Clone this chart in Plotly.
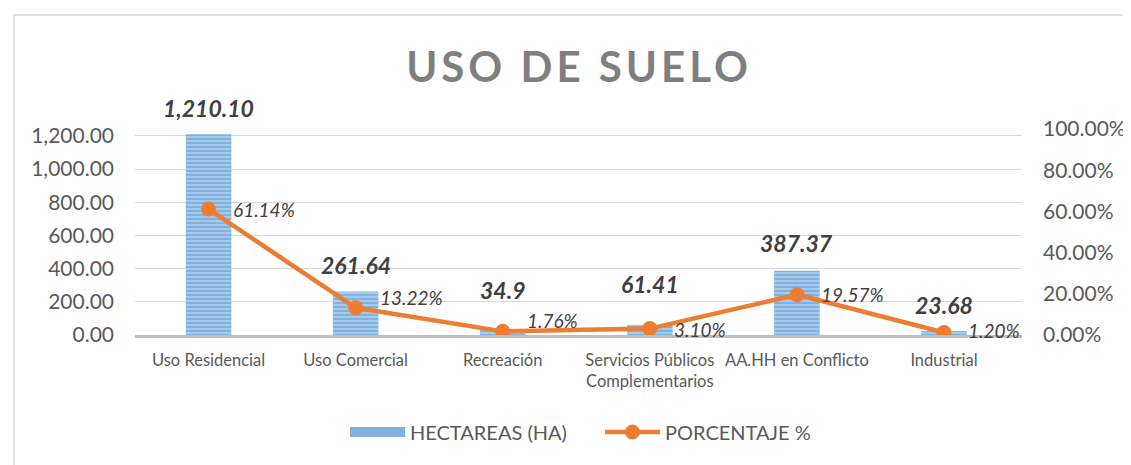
import plotly.graph_objects as go

categories = ["Uso Residencial", "Uso Comercial", "Recreación",
              "Servicios Públicos<br>Complementarios", "AA.HH en Conflicto", "Industrial"]
hectareas = [1210.10, 261.64, 34.9, 61.41, 387.37, 23.68]
hect_labels = ["1,210.10", "261.64", "34.9", "61.41", "387.37", "23.68"]
porcentaje = [0.6114, 0.1322, 0.0176, 0.0310, 0.1957, 0.0120]
pct_labels = ["61.14%", "13.22%", "1.76%", "3.10%", "19.57%", "1.20%"]
left_ticks = [0, 200, 400, 600, 800, 1000, 1200]
right_ticks = [0, 0.2, 0.4, 0.6, 0.8, 1.0]

# label offsets (px) to mimic manual placement
bar_label_shift = [26, 27, 39, 41, 28, 26]
pct_label_shift = [0, 10, 11, -1, 0, 2]

FONT = "Lato"
OFF = 8  # page body margin
W, H = 1131 - OFF, 465 - OFF
L, R, T, B = 135 - OFF, 1131 - 1022, 129 - OFF, 465 - 335
PW, PH = W - L - R, H - T - B

fig = go.Figure()
fig.add_trace(go.Bar(
    x=categories, y=hectareas, name="HECTAREAS (HA)", width=0.31, showlegend=False,
    marker=dict(color="#5B9BD5", line=dict(width=0),
                pattern=dict(shape="-", bgcolor="#A9CBEA", fgcolor="#5B9BD5",
                             size=4, solidity=0.55)),
    yaxis="y"))
# legend stand-in for the patterned bar swatch
fig.add_trace(go.Scatter(
    x=[None], y=[None], name="HECTAREAS (HA)", mode="lines",
    line=dict(color="#7FB0DF", width=14), yaxis="y"))
fig.add_trace(go.Scatter(
    x=categories, y=porcentaje, name="PORCENTAJE %", mode="lines+markers",
    line=dict(color="#ED7D31", width=4.5),
    marker=dict(color="#ED7D31", size=15),
    yaxis="y2"))

for c, v, t, s in zip(categories, hectareas, hect_labels, bar_label_shift):
    fig.add_annotation(x=c, y=v, yref="y", text=f"<b><i>{t}</i></b>", showarrow=False,
                       yshift=s, font=dict(family=FONT, size=23, color="#404040"))
for c, v, t, s in zip(categories, porcentaje, pct_labels, pct_label_shift):
    fig.add_annotation(x=c, y=v, yref="y2", text=f"<i>{t}</i>", showarrow=False,
                       xanchor="left", xshift=22, yshift=s,
                       font=dict(family=FONT, size=19, color="#404040"))

# outer chart border (screen coords 14,15 -> beyond the window)
bx0, by0 = 14 - OFF, 15 - OFF
fig.add_shape(type="rect", xref="paper", yref="paper",
              x0=(bx0 - L) / PW, x1=(W + 10 - L) / PW,
              y0=-(H + 10 - (H - B)) / PH, y1=((H - B) - by0) / PH,
              line=dict(color="#D9D9D9", width=1.5), layer="below")

fig.update_layout(
    width=W, height=H,
    margin=dict(l=L, r=R, t=T, b=B, autoexpand=False),
    paper_bgcolor="white", plot_bgcolor="white",
    font=dict(family=FONT, color="#595959"),
    title=dict(text="<span style=\"letter-spacing:4px\"><b>USO DE SUELO</b></span>",
               x=(579 - OFF) / W, xanchor="center",
               y=1 - (67 - OFF) / H, yanchor="middle",
               font=dict(family=FONT, size=42, color="#7F7F7F")),
    bargap=0.69,
    showlegend=True,
    legend=dict(orientation="h", x=(345 - OFF - L) / PW, xanchor="left",
                y=-(432 - 335) / PH, yanchor="middle",
                font=dict(family=FONT, size=20, color="#595959"), itemwidth=55,
                entrywidthmode="pixels", entrywidth=185, traceorder="normal"),
    xaxis=dict(showgrid=False, showline=True, linecolor="#BFBFBF", linewidth=3,
               tickfont=dict(family=FONT, size=16.5, color="#595959"), ticks="",
               ticklabelstandoff=8, automargin=False),
    yaxis=dict(range=[0, 1242], tickvals=left_ticks, tickformat=",.2f",
               showgrid=True, gridcolor="#D9D9D9", gridwidth=1, zeroline=False,
               tickfont=dict(family=FONT, size=21, color="#595959"),
               ticklabelstandoff=20, automargin=False),
    yaxis2=dict(range=[0, 1.0], tickvals=right_ticks, tickformat=".2%", overlaying="y",
                side="right", showgrid=False, zeroline=False,
                tickfont=dict(family=FONT, size=21, color="#595959"),
                ticklabelstandoff=20, automargin=False),
)
fig.write_html("out.html")
